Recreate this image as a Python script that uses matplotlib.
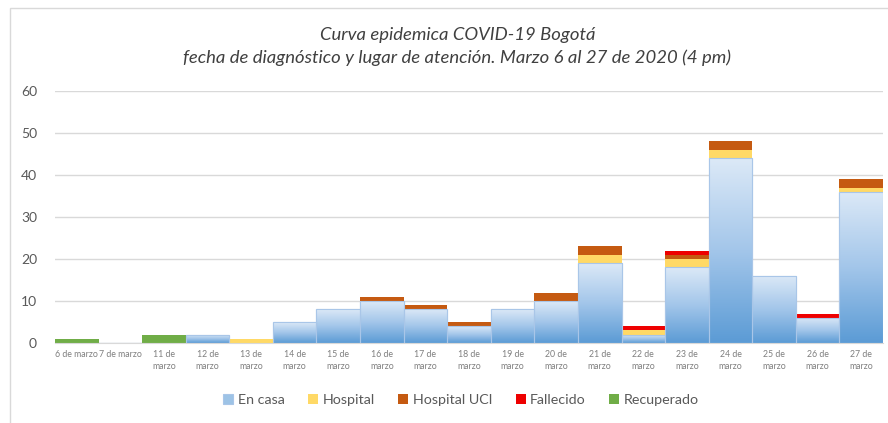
import numpy as np
import matplotlib.pyplot as plt
from matplotlib.colors import LinearSegmentedColormap
from matplotlib.patches import Rectangle

plt.rcParams['font.family'] = ['Lato', 'DejaVu Sans']

# Datos
fechas = ['6 de marzo', '7 de marzo', '11 de\nmarzo', '12 de\nmarzo', '13 de\nmarzo',
          '14 de\nmarzo', '15 de\nmarzo', '16 de\nmarzo', '17 de\nmarzo', '18 de\nmarzo',
          '19 de\nmarzo', '20 de\nmarzo', '21 de\nmarzo', '22 de\nmarzo', '23 de\nmarzo',
          '24 de\nmarzo', '25 de\nmarzo', '26 de\nmarzo', '27 de\nmarzo']
en_casa     = [0, 0, 0, 2, 0, 5, 8, 10, 8, 4, 8, 10, 19, 2, 18, 44, 16, 6, 36]
hospital    = [0, 0, 0, 0, 1, 0, 0, 0, 0, 0, 0, 0, 2, 1, 2, 2, 0, 0, 1]
hospital_uci = [0, 0, 0, 0, 0, 0, 0, 1, 1, 1, 0, 2, 2, 0, 1, 2, 0, 0, 2]
fallecido   = [0, 0, 0, 0, 0, 0, 0, 0, 0, 0, 0, 0, 0, 1, 1, 0, 0, 1, 0]
recuperado  = [1, 0, 2, 0, 0, 0, 0, 0, 0, 0, 0, 0, 0, 0, 0, 0, 0, 0, 0]

fig = plt.figure(figsize=(8.88, 4.23), dpi=100)
ax = fig.add_axes([55 / 888, 1 - 343 / 423, 828 / 888, 252 / 423])

x = np.arange(len(fechas))
w = 1.0
base = np.zeros(len(fechas))

casa_bars = ax.bar(x, en_casa, w, bottom=base, color='#9dc3e6', edgecolor='#a9c6e8',
                   linewidth=0.8, label='En casa', zorder=2)
base += en_casa
ax.bar(x, hospital, w, bottom=base, color='#ffd966', label='Hospital', zorder=2)
base += hospital
ax.bar(x, hospital_uci, w, bottom=base, color='#c55a11', label='Hospital UCI', zorder=2)
base += hospital_uci
ax.bar(x, fallecido, w, bottom=base, color='#ee0000', label='Fallecido', zorder=2)
base += fallecido
ax.bar(x, recuperado, w, bottom=base, color='#70ad47', label='Recuperado', zorder=2)

# gradiente en las barras "En casa"
cmap = LinearSegmentedColormap.from_list('casa', ['#5b9bd5', '#a3c6ea', '#dce9f7'])
grad = np.linspace(0, 1, 256).reshape(-1, 1)
for p in casa_bars:
    h = p.get_height()
    if h <= 0:
        continue
    x0, y0 = p.get_x(), p.get_y()
    im = ax.imshow(grad, extent=[x0, x0 + p.get_width(), y0, y0 + h], origin='lower',
                   aspect='auto', cmap=cmap, zorder=2.5)
    im.set_clip_path(p)
    ax.add_patch(Rectangle((x0, y0), p.get_width(), h, fill=False,
                           edgecolor='#a9c6e8', linewidth=0.8, zorder=2.6))

ax.set_xlim(-0.5, len(fechas) - 0.5)
ax.set_ylim(0, 60)
ax.set_yticks(range(0, 61, 10))
ax.yaxis.grid(True, color='#d9d9d9', linewidth=1)
ax.set_axisbelow(True)
for s in ['top', 'right', 'left']:
    ax.spines[s].set_visible(False)
ax.spines['bottom'].set_color('#d9d9d9')
ax.tick_params(axis='y', length=0, pad=13, labelsize=10, labelcolor='#595959')
ax.tick_params(axis='x', length=0, pad=5, labelsize=6.3, labelcolor='#7f7f7f')
ax.set_xticks(x)
ax.set_xticklabels(fechas, linespacing=1.5)

fig.text(0.515, 1 - 46.5 / 423,
         'Curva epidemica COVID-19 Bogotá\nfecha de diagnóstico y lugar de atención. Marzo 6 al 27 de 2020 (4 pm)',
         ha='center', va='center', fontsize=13.3, style='italic', color='#404040',
         linespacing=1.45)

fig.legend(loc='center', bbox_to_anchor=(461 / 888, 1 - 400 / 423), ncol=5, frameon=False,
           fontsize=10.3, labelcolor='#595959', handlelength=0.7, handleheight=0.7,
           handletextpad=0.3, columnspacing=1.65)

fig.patches.append(Rectangle((10 / 888, -0.05), 1.0, 1.05 - 8 / 423, transform=fig.transFigure,
                             fill=False, edgecolor='#d9d9d9', linewidth=1))

fig.savefig('out.png', dpi=100)
